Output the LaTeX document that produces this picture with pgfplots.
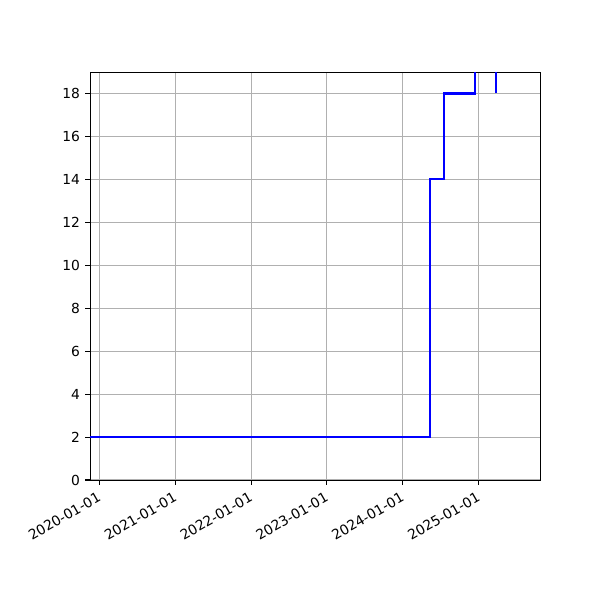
\documentclass[border=0pt]{standalone}
\usepackage{pgfplots}
\pgfplotsset{compat=1.18}
\usepackage{fontspec}
\setmainfont{DejaVu Sans}
\definecolor{gridgray}{HTML}{B0B0B0}
% x = days since 2020-01-01
\begin{document}
\begin{tikzpicture}
\useasboundingbox (0,0) rectangle (433.62pt,433.62pt);
\begin{axis}[
    at={(65.04pt,86.72pt)}, anchor=south west,
    scale only axis,
    width=325.21pt, height=294.86pt,
    xmin=-45, xmax=2122,
    ymin=0, ymax=19,
    xtick={0,366,731,1096,1461,1827},
    xticklabels={2020-01-01,2021-01-01,2022-01-01,2023-01-01,2024-01-01,2025-01-01},
    ytick={0,2,4,6,8,10,12,14,16,18},
    grid=major,
    grid style={gridgray, line width=0.8pt},
    axis line style={line width=0.7pt},
    tick style={black, line width=0.8pt},
    tick align=outside,
    major tick length=3.5pt,
    xtick pos=bottom, ytick pos=left,
    /pgf/number format/assume math mode=true,
    tick label style={font=\fontsize{10}{12}\selectfont},
    xticklabel style={rotate=30, anchor=north east, inner sep=0pt, xshift=-4pt, yshift=-3pt},
    yticklabel style={inner sep=0pt, xshift=-3.5pt},
    clip=true,
]
\addplot[color=blue, line width=1.5pt, const plot mark left]
    coordinates {(-45,2)(1592,14)(1658,18)(1810,25)(1911,18)};
\end{axis}
\end{tikzpicture}
\end{document}
